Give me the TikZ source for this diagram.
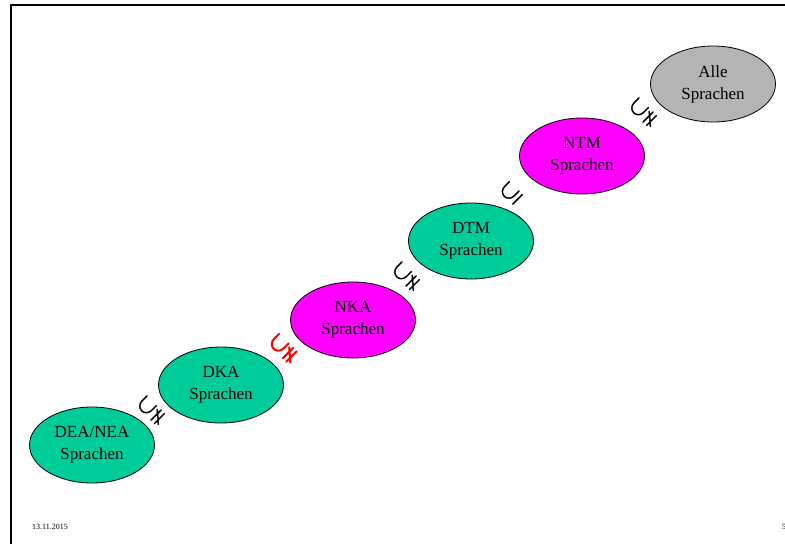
\documentclass[tikz,border=0pt]{standalone}
\usepackage{amsmath,amssymb}
\usepackage{fontspec}
\setmainfont{Liberation Serif}
\usetikzlibrary{shapes.geometric}
\definecolor{lgreen}{RGB}{0,204,153}
\definecolor{lmag}{RGB}{255,0,255}
\definecolor{lgray}{RGB}{180,180,180}
\newcommand{\strokedsym}[2]{\special{pdf:literal direct 2 Tr #1 w}#2\special{pdf:literal direct 0 Tr}}
\tikzset{
  lang/.style={ellipse, draw=black, line width=0.8pt, minimum width=125pt, minimum height=76pt,
    inner sep=0pt, align=center, font=\fontsize{17}{22}\selectfont},
  rel/.style={rotate=45, inner sep=0pt, font=\fontsize{25}{25}\selectfont},
  frameline/.style={line width=2pt, black}
}
\begin{document}
\begin{tikzpicture}[x=1pt,y=-1pt]
\useasboundingbox (0,0) rectangle (785,544);
\draw[frameline] (10.5,544) -- (10.5,4.5) -- (785,4.5);
\node[lang, fill=lgreen] (dea) at (92,445) {DEA/NEA\\Sprachen};
\node[lang, fill=lgreen] (dka) at (221,385) {DKA\\Sprachen};
\node[lang, fill=lmag] (nka) at (353,320) {NKA\\Sprachen};
\node[lang, fill=lgreen] (dtm) at (471,241) {DTM\\Sprachen};
\node[lang, fill=lmag] (ntm) at (582,156) {NTM\\Sprachen};
\node[lang, fill=lgray] (alle) at (713,84) {Alle\\Sprachen};
\node[rel] (r1) at (151,410) {\strokedsym{0.4}{$\subsetneqq$}};
\node[rel, text=red] (r2) at (283,348) {\strokedsym{1.0}{$\subsetneqq$}};
\node[rel] (r3) at (406,276) {\strokedsym{0.4}{$\subsetneqq$}};
\node[rel] (r4) at (511,193) {\strokedsym{0.4}{$\subseteq$}};
\node[rel] (r5) at (643,112) {\strokedsym{0.4}{$\subsetneqq$}};
\node[font=\fontsize{8}{8}\selectfont, anchor=west, inner sep=0pt] (date) at (32,527) {13.11.2015};
\node[font=\fontsize{8}{8}\selectfont, anchor=west, inner sep=0pt] (page) at (782,527) {5};
\end{tikzpicture}
\end{document}
